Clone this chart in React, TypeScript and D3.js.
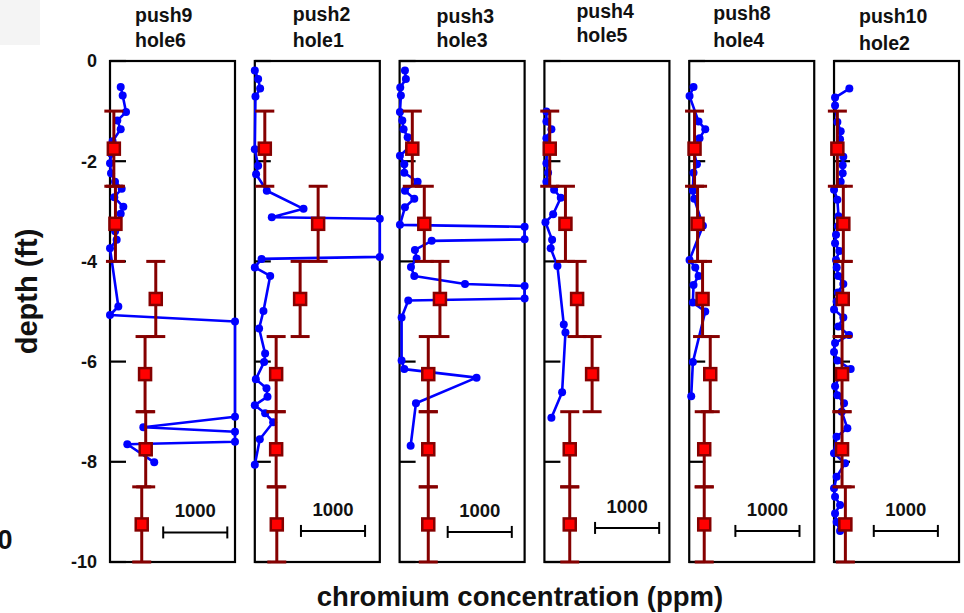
import { useMemo } from 'react';
import * as d3 from 'd3';

type Pt = [number, number]; // [depth (ft), concentration (ppm)]

const pushLabels = ['push9', 'push2', 'push3', 'push4', 'push8', 'push10'];
const holeLabels = ['hole6', 'hole1', 'hole3', 'hole5', 'hole4', 'hole2'];
const depthTicks = [0, -2, -4, -6, -8, -10];

// lab samples: one per 1.5 ft interval, error bar = interval
const labDepths = [-1.75, -3.25, -4.75, -6.25, -7.75, -9.25];
const labHalfSpan = 0.75;
const labPush9 = [60, 85, 714, 547, 557, 495];
const labPush2 = [156, 988, 707, 333, 333, 343];
const labPush3 = [198, 385, 629, 447, 447, 447];
const labPush4 = [83, 328, 510, 744, 395, 395];
const labPush8 = [83, 130, 208, 328, 234, 234];
const labPush10 = [52, 145, 136, 125, 125, 177];

// field probe readings (depth, ppm)
const probePush9: Pt[] = [
  [-0.52, 167], [-0.69, 198], [-1.02, 250], [-1.19, 114], [-1.36, 167], [-1.6, 40], [-1.85, 20],
  [-2.04, 0], [-2.24, 16], [-2.41, 78], [-2.55, 182], [-2.72, 67], [-2.91, 208], [-3.05, 167],
  [-3.25, 110], [-3.4, 80], [-3.57, 104], [-3.74, 0], [-4.9, 130], [-5.07, 0], [-5.2, 1950],
  [-7.1, 1950], [-7.31, 520], [-7.4, 1950], [-7.6, 1950], [-7.65, 270], [-8.01, 690],
];
const probePush2: Pt[] = [
  [-0.19, 0], [-0.36, 52], [-0.55, 83], [-0.71, 10], [-1.76, 0], [-2.09, 52], [-2.26, 20],
  [-2.59, 187], [-2.95, 760], [-3.12, 265], [-3.15, 1950], [-3.91, 1950], [-3.95, 105], [-4.12, 0],
  [-4.29, 240], [-4.99, 135], [-5.34, 67], [-5.84, 161], [-6.01, 145], [-6.35, 16], [-6.53, 182],
  [-6.7, 198], [-6.87, 0], [-7.03, 161], [-7.21, 286], [-7.55, 78], [-8.06, 0],
];
const probePush3: Pt[] = [
  [-0.19, 83], [-0.36, 98], [-0.53, 10], [-0.69, 20], [-1.02, 5], [-1.19, 42], [-1.36, 62],
  [-1.52, 125], [-1.72, 150], [-1.89, 5], [-2.06, 73], [-2.23, 73], [-2.41, 281], [-2.59, 83],
  [-2.75, 229], [-2.92, 83], [-3.27, 5], [-3.31, 1950], [-3.56, 1950], [-3.59, 500], [-3.77, 239],
  [-3.94, 265], [-4.11, 177], [-4.29, 229], [-4.45, 1020], [-4.49, 1950], [-4.74, 1950], [-4.78, 135],
  [-5.12, 31], [-5.98, 31], [-6.15, 73], [-6.32, 1200], [-6.83, 255], [-7.68, 172],
];
const probePush4: Pt[] = [
  [-1.01, 31], [-1.21, 31], [-1.36, 109], [-1.54, 31], [-1.75, 40], [-2.04, 31], [-2.23, 57],
  [-2.41, 31], [-2.57, 151], [-2.73, 255], [-3.06, 136], [-3.22, 16], [-3.57, 120], [-3.74, 98],
  [-4.09, 203], [-5.26, 302], [-5.42, 328], [-6.61, 276], [-7.12, 109],
];
const probePush8: Pt[] = [
  [-0.52, 67], [-0.7, 5], [-1.21, 146], [-1.36, 250], [-1.54, 161], [-1.75, 60], [-2.06, 120],
  [-2.23, 67], [-2.59, 57], [-2.75, 78], [-3.29, 214], [-3.97, 5], [-4.12, 94], [-4.29, 146],
  [-4.47, 67], [-4.82, 57], [-5.0, 250], [-6.01, 57], [-6.69, 31],
];
const probePush10: Pt[] = [
  [-0.55, 239], [-0.73, 16], [-0.89, 16], [-1.22, 52], [-1.4, 104], [-1.56, 94], [-1.91, 145],
  [-2.08, 135], [-2.24, 135], [-2.41, 104], [-2.57, 0], [-2.77, 52], [-3.1, 70], [-3.3, 60],
  [-3.47, 31], [-3.64, 16], [-3.79, 83], [-3.97, 31], [-4.12, 42], [-4.29, 67], [-4.45, 145],
  [-4.62, 60], [-4.8, 40], [-4.96, 0], [-5.12, 145], [-5.3, 67], [-5.47, 234], [-5.63, 16],
  [-5.81, 0], [-5.98, 52], [-6.15, 260], [-6.3, 80], [-6.49, 16], [-6.67, 52], [-6.83, 156],
  [-7.0, 120], [-7.33, 208], [-7.5, 40], [-7.83, 0], [-8.03, 172], [-8.3, 40], [-8.53, 0],
  [-8.7, 16], [-8.86, 94], [-9.03, 16], [-9.2, 40], [-9.38, 94],
];

const labValues = [labPush9, labPush2, labPush3, labPush4, labPush8, labPush10];
const probeValues = [probePush9, probePush2, probePush3, probePush4, probePush8, probePush10];

// 1000 ppm scale bar in each panel
const scaleBarStart = [830, 720, 750, 790, 720, 620];
const scaleBarDepth = [-9.41, -9.38, -9.4, -9.32, -9.38, -9.38];
const scaleBarLength = 1000;

const W = 964;
const H = 613;
const TOP = 61;
const BOTTOM = 562;
const PANEL_W = 125;
const X_MAX = 1950;
const FONT = '"Liberation Sans", Arial, Helvetica, sans-serif';
const INK = '#111';
const BLUE = '#0000ff';
const MAROON = '#850000';
// title offset from panel left, baseline of line 1, baseline of line 2
const TITLE_POS = [
  [25, 22, 46.5], [38, 21, 46.5], [37, 22.5, 47], [32, 18, 42], [24, 19.5, 46.5], [25, 22.5, 50],
];

const App = () => {
  const panelScale = useMemo(
    () => d3.scaleBand<number>().domain(d3.range(pushLabels.length)).range([110, 959]).paddingInner(0.137),
    []
  );
  const yScale = useMemo(() => d3.scaleLinear().domain([0, -10]).range([TOP, BOTTOM]), []);

  return (
    <svg width={W} height={H} style={{ position: 'absolute', left: 0, top: 0, background: '#fff' }} fontFamily={FONT}>
      <rect x={0} y={0} width={40} height={45} fill="#f4f4f4" />
      <text x={-2.5} y={549} fontSize={27} fontWeight="bold" fill={INK}>0</text>

      {depthTicks.map((t) => (
        <text key={t} x={97} y={yScale(t)} dy="0.36em" textAnchor="end" fontSize={18} fontWeight="bold" fill={INK}>
          {t}
        </text>
      ))}
      <text
        transform={`translate(37,${(TOP + BOTTOM) / 2 - 20}) rotate(-90)`}
        textAnchor="middle"
        fontSize={29}
        fontWeight="bold"
        fill={INK}
      >
        depth (ft)
      </text>
      <text x={520} y={606} textAnchor="middle" fontSize={27.5} fontWeight="bold" fill={INK}>
        chromium concentration (ppm)
      </text>

      {pushLabels.map((name, i) => {
        const x0 = panelScale(i) as number;
        const xScale = d3.scaleLinear().domain([0, X_MAX]).range([x0, x0 + PANEL_W]);
        const line = d3
          .line<Pt>()
          .x((p) => xScale(p[1]))
          .y((p) => yScale(p[0]));
        const [tOff, b1, b2] = TITLE_POS[i];
        const barY = yScale(scaleBarDepth[i]);
        const barX1 = xScale(scaleBarStart[i]);
        const barX2 = xScale(scaleBarStart[i] + scaleBarLength);
        return (
          <g key={name}>
            <text x={x0 + tOff} fontSize={19.5} fontWeight="bold" fill={INK}>
              <tspan x={x0 + tOff} y={b1}>{name}</tspan>
              <tspan x={x0 + tOff} y={b2}>{holeLabels[i]}</tspan>
            </text>
            <rect x={x0} y={TOP} width={PANEL_W} height={BOTTOM - TOP} fill="none" stroke="#000" strokeWidth={2.2} />
            {depthTicks.map((t) => (
              <line key={t} x1={x0} x2={x0 + 16} y1={yScale(t)} y2={yScale(t)} stroke="#000" strokeWidth={2.2} />
            ))}

            <path d={line(probeValues[i]) ?? ''} fill="none" stroke={BLUE} strokeWidth={2.6} strokeLinejoin="round" />
            {probeValues[i].map((p, k) => (
              <circle key={k} cx={xScale(p[1])} cy={yScale(p[0])} r={4} fill={BLUE} />
            ))}

            {labValues[i].map((v, k) => {
              const d = labDepths[k];
              const cx = xScale(v);
              const yTop = yScale(d + labHalfSpan);
              const yBot = yScale(d - labHalfSpan);
              return (
                <g key={k} stroke={MAROON} strokeWidth={3}>
                  <line x1={cx} x2={cx} y1={yTop} y2={yBot} />
                  <line x1={cx - 9.5} x2={cx + 9.5} y1={yTop} y2={yTop} />
                  <line x1={cx - 9.5} x2={cx + 9.5} y1={yBot} y2={yBot} />
                  <rect x={cx - 6} y={yScale(d) - 6} width={12} height={12} fill="#ff0000" strokeWidth={2.5} />
                </g>
              );
            })}

            <g stroke="#000" strokeWidth={2}>
              <line x1={barX1} x2={barX2} y1={barY} y2={barY} />
              <line x1={barX1} x2={barX1} y1={barY - 6} y2={barY + 6} />
              <line x1={barX2} x2={barX2} y1={barY - 6} y2={barY + 6} />
            </g>
            <text x={(barX1 + barX2) / 2} y={barY - 15} textAnchor="middle" fontSize={18.5} fontWeight="bold" fill={INK}>
              1000
            </text>
          </g>
        );
      })}
    </svg>
  );
};

export default App;
